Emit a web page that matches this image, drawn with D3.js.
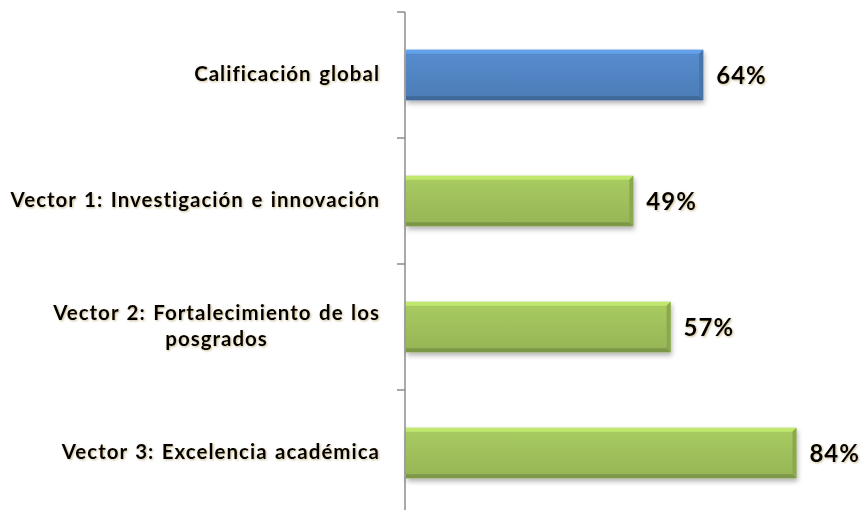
<!DOCTYPE html>
<html>
<head>
<meta charset="utf-8">
<script src="https://cdn.jsdelivr.net/npm/d3@7"></script>
<style>
  body { margin: 0; background: #fff; }
  svg { display: block; }
  text { font-family: Lato, "Open Sans", sans-serif; font-weight: bold; fill: #000; }
</style>
</head>
<body>
<div id="chart"></div>
<script>
var categories = [
    ["Calificación global"],
    ["Vector 1: Investigación e innovación"],
    ["Vector 2: Fortalecimiento de los", "posgrados"],
    ["Vector 3: Excelencia académica"]
];
var values = [0.64, 0.49, 0.57, 0.84];
var barColors = ["#4F81BD", "#9BBB59", "#9BBB59", "#9BBB59"];

var width = 864,
    height = 510,
    axisX = 405,
    formatPercent = d3.format(".0%");

var svg = d3.select("#chart").append("svg")
    .attr("width", width)
    .attr("height", height);

var defs = svg.append("defs");
var shadow = defs.append("filter").attr("id", "shadow")
    .attr("x", "-10%").attr("y", "-20%").attr("width", "130%").attr("height", "160%");
shadow.append("feDropShadow")
    .attr("dx", 1).attr("dy", 3).attr("stdDeviation", 2.5)
    .attr("flood-color", "#000").attr("flood-opacity", 0.3);

var glow = defs.append("filter").attr("id", "glow")
    .attr("x", "-5%").attr("y", "-20%").attr("width", "110%").attr("height", "140%");
glow.append("feGaussianBlur").attr("in", "SourceAlpha").attr("stdDeviation", 1).attr("result", "b");
glow.append("feOffset").attr("in", "b").attr("dx", 0.5).attr("dy", 0.5).attr("result", "o");
glow.append("feFlood").attr("flood-color", "#8a6a20").attr("flood-opacity", 0.45);
glow.append("feComposite").attr("in2", "o").attr("operator", "in");
var gm = glow.append("feMerge");
gm.append("feMergeNode");
gm.append("feMergeNode").attr("in", "SourceGraphic");

// bar face gradient, lighter towards the top
["blue", "green"].forEach(function(name, k) {
    var c = d3.color(k === 0 ? barColors[0] : barColors[1]);
    var lg = defs.append("linearGradient").attr("id", "grad-" + name)
        .attr("x1", 0).attr("y1", 0).attr("x2", 0).attr("y2", 1);
    lg.append("stop").attr("offset", "0%").attr("stop-color", c.brighter(0.25));
    lg.append("stop").attr("offset", "100%").attr("stop-color", c.darker(0.1));
});

var x = d3.scaleLinear().domain([0, 1]).range([axisX, axisX + 466]);
var y = d3.scaleBand().domain(d3.range(categories.length)).range([12, 516]).paddingInner(0.6).paddingOuter(0.3);
var yTicks = d3.scaleBand().domain(d3.range(categories.length)).range([12, 516]);

// axis line and tick marks at category boundaries
svg.append("line")
    .attr("x1", axisX).attr("x2", axisX)
    .attr("y1", 12).attr("y2", height)
    .attr("stroke", "#8c8c8c").attr("stroke-width", 1.5);
svg.selectAll(".tick").data(d3.range(categories.length)).enter().append("line")
    .attr("x1", axisX - 8).attr("x2", axisX)
    .attr("y1", function(i) { return yTicks(i); })
    .attr("y2", function(i) { return yTicks(i); })
    .attr("stroke", "#8c8c8c").attr("stroke-width", 1.5);

var bars = svg.selectAll(".bar").data(values).enter().append("g")
    .attr("class", "bar")
    .attr("filter", "url(#shadow)");

var bw = 4;
bars.each(function(v, i) {
    var g = d3.select(this),
        x0 = x(0) + 1, x1 = x(v), y0 = y(i), y1 = y(i) + y.bandwidth(),
        c = d3.color(barColors[i]);
    g.append("rect")
        .attr("x", x0).attr("y", y0)
        .attr("width", x1 - x0).attr("height", y1 - y0)
        .attr("fill", i === 0 ? "url(#grad-blue)" : "url(#grad-green)");
    // bevel edges
    g.append("polygon").attr("points", [[x0, y0], [x1, y0], [x1 - bw, y0 + bw], [x0, y0 + bw]].join(" "))
        .attr("fill", c.brighter(0.6));
    g.append("polygon").attr("points", [[x0, y1], [x1, y1], [x1 - bw, y1 - bw], [x0, y1 - bw]].join(" "))
        .attr("fill", c.darker(0.6));
    g.append("polygon").attr("points", [[x1, y0], [x1, y1], [x1 - bw, y1 - bw], [x1 - bw, y0 + bw]].join(" "))
        .attr("fill", c.darker(0.3));
});

svg.selectAll(".value").data(values).enter().append("text")
    .attr("class", "value")
    .attr("x", function(v) { return x(v) + 13; })
    .attr("y", function(v, i) { return y(i) + y.bandwidth() / 2; })
    .attr("dy", "0.36em")
    .attr("font-size", 24)
    .attr("letter-spacing", 1)
    .attr("filter", "url(#glow)")
    .text(function(v) { return formatPercent(v); });

svg.selectAll(".cat").data(categories).enter().append("text")
    .attr("class", "cat")
    .attr("font-size", 20.5)
    .attr("letter-spacing", 1)
    .attr("word-spacing", 1.5)
    .attr("filter", "url(#glow)")
    .each(function(lines, i) {
        var t = d3.select(this),
            cy = yTicks(i) + yTicks.bandwidth() / 2 - 1,
            lh = 26;
        lines.forEach(function(s, k) {
            t.append("tspan")
                .attr("y", cy + (k - (lines.length - 1) / 2) * lh)
                .attr("dy", "0.35em")
                .text(s);
        });
        var maxW = 0;
        t.selectAll("tspan").each(function() { maxW = Math.max(maxW, this.getComputedTextLength()); });
        t.attr("text-anchor", "middle");
        t.selectAll("tspan").attr("x", 380 - maxW / 2);
    });
</script>
</body>
</html>
